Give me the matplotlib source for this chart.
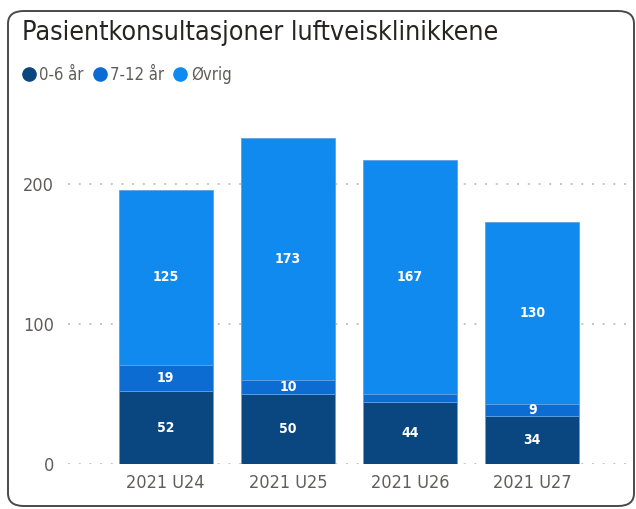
import matplotlib.pyplot as plt
from matplotlib.patches import FancyBboxPatch
from matplotlib.lines import Line2D
import numpy as np

weeks = ['2021 U24', '2021 U25', '2021 U26', '2021 U27']
age_0_6 = [52, 50, 44, 34]
age_7_12 = [19, 10, 6, 9]
other = [125, 173, 167, 130]
series_names = ['0-6 år', '7-12 år', 'Øvrig']
colors = ['#0A4780', '#0D6CD2', '#118AF0']

plt.rcParams['font.family'] = ['DejaVu Sans']
plt.rcParams['font.stretch'] = 'condensed'

fig = plt.figure(figsize=(6.36, 5.09), dpi=100)

# card border
card = FancyBboxPatch((8 / 636, 3 / 509), 626 / 636, 495 / 509,
                      boxstyle='round,pad=0,rounding_size=0.025',
                      transform=fig.transFigure, facecolor='none',
                      edgecolor='#4a4a4a', linewidth=1.4, zorder=-1)
fig.patches.append(card)

ax = fig.add_axes([68 / 636, 45 / 509, 562 / 636, 350 / 509])
ax.set_facecolor('none')

x = np.arange(len(weeks))
w = 0.77
bottoms = np.zeros(len(weeks))
for vals, col in zip([age_0_6, age_7_12, other], colors):
    ax.bar(x, vals, w, bottom=bottoms, color=col, edgecolor='#5fa0e0',
           linewidth=0.6, zorder=3)
    for xi, v, b in zip(x, vals, bottoms):
        if v >= 8:
            ax.text(xi, b + v / 2, str(v), ha='center', va='center',
                    color='white', fontsize=10, fontweight='bold', zorder=4)
    bottoms += np.array(vals)

ax.set_xlim(-0.8, 3.8)
ax.set_ylim(0, 250)
ax.set_yticks([0, 100, 200])
ax.set_xticks(x)
ax.set_xticklabels(weeks)
ax.grid(axis='y', color='#c4c4c4', linestyle=(0, (1, 4.5)), linewidth=1.4, zorder=0)
for s in ax.spines.values():
    s.set_visible(False)
ax.tick_params(length=0, labelsize=13, colors='#605E5C', pad=10)
ax.tick_params(axis='x', pad=7)

fig.text(22 / 636, 1 - 33 / 509, 'Pasientkonsultasjoner luftveisklinikkene',
         fontsize=19.3, color='#252423', va='center', ha='left')

handles = [Line2D([], [], marker='o', linestyle='none', markersize=9.5,
                  markerfacecolor=c, markeredgecolor=c) for c in colors]
fig.legend(handles, series_names, loc='center left',
           bbox_to_anchor=(16 / 636, 1 - 75 / 509), ncol=3, frameon=False,
           handlelength=0.7, handletextpad=0.3, columnspacing=0.6,
           fontsize=12, labelcolor='#605E5C', borderaxespad=0)

fig.savefig('out.png', dpi=100)
